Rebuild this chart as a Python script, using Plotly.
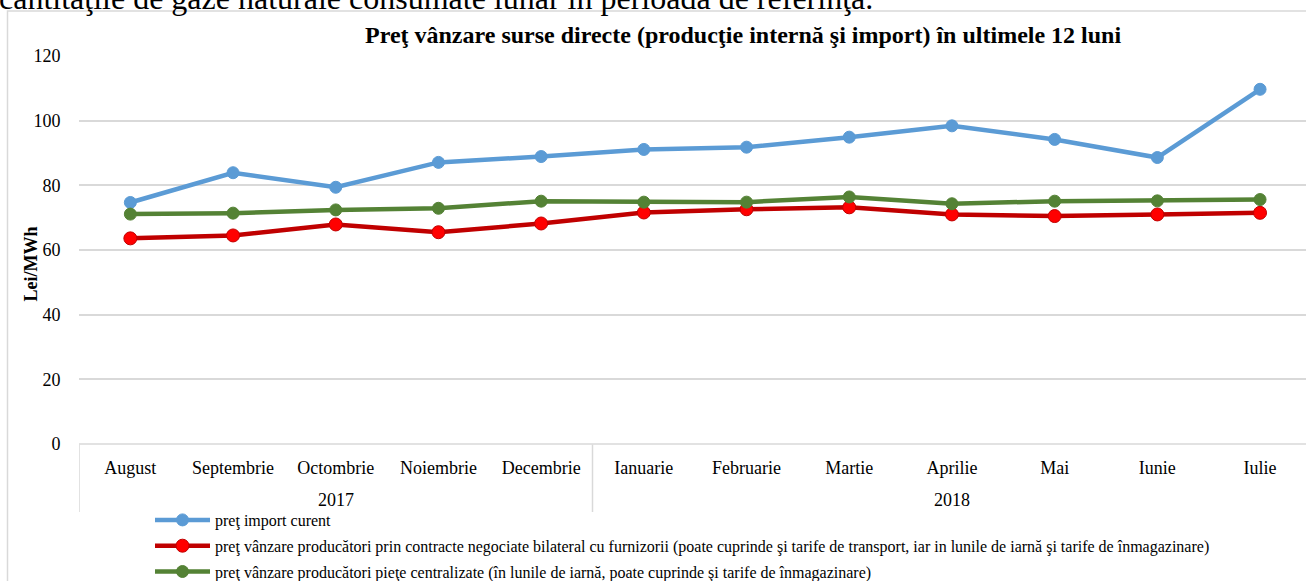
import plotly.graph_objects as go

# ---------------- data ----------------
months = ["August", "Septembrie", "Octombrie", "Noiembrie", "Decembrie",
          "Ianuarie", "Februarie", "Martie", "Aprilie", "Mai", "Iunie", "Iulie"]
years = ["2017"] * 5 + ["2018"] * 7

pret_import = [74.7, 83.9, 79.4, 87.1, 88.9, 91.1, 91.8, 94.9, 98.4, 94.2, 88.6, 109.7]
pret_bilateral = [63.6, 64.5, 67.9, 65.5, 68.2, 71.6, 72.6, 73.2, 71.0, 70.5, 71.0, 71.5]
pret_centralizate = [71.1, 71.4, 72.4, 72.9, 75.1, 74.8, 74.8, 76.4, 74.3, 75.1, 75.2, 75.6]

series_names = [
    "preţ import curent",
    "preţ vânzare producători prin contracte negociate bilateral cu furnizorii (poate cuprinde şi tarife de transport, iar in lunile de iarnă şi tarife de înmagazinare)",
    "preţ vânzare producători pieţe centralizate (în lunile de iarnă, poate cuprinde şi tarife de înmagazinare)",
]
y_ticks = [0, 20, 40, 60, 80, 100, 120]

title_text = "Preţ vânzare surse directe (producţie internă şi import) în ultimele 12 luni"
y_title = "Lei/MWh"
page_text = "cantităţile de gaze naturale consumate lunar în perioada de referinţă."

# ---------------- styling ----------------
FONT = "Liberation Serif, Times New Roman, serif"
W, H = 1306, 581
ML, MR, MT, MB = 79, 0, 56, 137
PW = W - ML - MR
PH = H - MT - MB
GRID = "#D9D9D9"


def px_x(p):
    return (p - ML) / PW


def px_y(p):
    return 1 - (p - MT) / PH


fig = go.Figure()
styles = [
    dict(line=dict(color="#5B9BD5", width=4.5),
         marker=dict(color="#5B9BD5", size=12, line=dict(color="#5B9BD5", width=1))),
    dict(line=dict(color="#C00000", width=4.5),
         marker=dict(color="#FF0000", size=13, line=dict(color="#C00000", width=1))),
    dict(line=dict(color="#548235", width=4.5),
         marker=dict(color="#548235", size=12, line=dict(color="#548235", width=1))),
]
for i, (name, vals) in enumerate(zip(series_names,
                                     [pret_import, pret_bilateral, pret_centralizate])):
    fig.add_trace(go.Scatter(
        x=months, y=vals, name=name, mode="lines+markers",
        legendgroup=f"g{i}", cliponaxis=False, **styles[i]))

# year group labels and dividers, derived from the years list
groups = []
for idx, yr in enumerate(years):
    if not groups or groups[-1][0] != yr:
        groups.append([yr, idx, idx])
    else:
        groups[-1][2] = idx

annotations = []
shapes = []
boundaries = set()
for yr, i0, i1 in groups:
    annotations.append(dict(
        text=yr, xref="x", yref="paper", x=(i0 + i1) / 2, y=px_y(500),
        xanchor="center", yanchor="middle", showarrow=False,
        font=dict(family=FONT, size=18, color="#000000")))
    boundaries.add(i0 - 0.5)
    boundaries.add(i1 + 0.5)
for b in sorted(boundaries):
    shapes.append(dict(type="line", xref="x", yref="paper", x0=b, x1=b,
                       y0=px_y(444.5), y1=px_y(512),
                       line=dict(color=GRID, width=1.5), layer="below"))

annotations += [
    dict(text=f"<b>{title_text}</b>", xref="paper", yref="paper",
         x=px_x(742.5), y=px_y(34.6), xanchor="center", yanchor="middle",
         showarrow=False, font=dict(family=FONT, size=24, color="#000000")),
    dict(text=f"<b>{y_title}</b>", xref="paper", yref="paper",
         x=px_x(30.5), y=px_y(264), xanchor="center", yanchor="middle",
         textangle=-90, showarrow=False,
         font=dict(family=FONT, size=18, color="#000000")),
    dict(text=page_text, xref="paper", yref="paper",
         x=px_x(-3), y=px_y(-22), xanchor="left", yanchor="top",
         showarrow=False, font=dict(family=FONT, size=32, color="#000000")),
]
shapes += [
    dict(type="rect", xref="paper", yref="paper",
         x0=px_x(7.5), x1=px_x(1400), y0=px_y(700), y1=px_y(11),
         line=dict(color=GRID, width=1.5), fillcolor="rgba(0,0,0,0)",
         layer="below"),
    dict(type="line", xref="paper", yref="paper",
         x0=0, x1=1, y0=0, y1=0,
         line=dict(color=GRID, width=1.5), layer="below"),
]

fig.update_layout(
    width=W, height=H,
    margin=dict(l=ML, r=MR, t=MT, b=MB, pad=0, autoexpand=False),
    paper_bgcolor="white", plot_bgcolor="white",
    font=dict(family=FONT, color="#000000", size=18),
    showlegend=True,
    legend=dict(
        xref="container", yref="container",
        x=150 / W, y=1 - 503 / H, xanchor="left", yanchor="top",
        font=dict(family=FONT, size=16, color="#000000"),
        tracegroupgap=2, itemwidth=55, bgcolor="rgba(0,0,0,0)",
        traceorder="grouped",
    ),
    xaxis=dict(
        type="category",
        range=[-0.5, -0.5 + PW / 102.7],
        showgrid=False, zeroline=False, showline=False,
        ticks="outside", ticklen=7, tickcolor="rgba(0,0,0,0)",
        tickfont=dict(family=FONT, size=18, color="#000000"),
    ),
    yaxis=dict(
        range=[0, 120], tickvals=y_ticks,
        showgrid=True, gridcolor=GRID, gridwidth=1.5,
        zeroline=False, showline=False,
        ticks="outside", ticklen=14, tickcolor="rgba(0,0,0,0)",
        tickfont=dict(family=FONT, size=18, color="#000000"),
    ),
    annotations=annotations,
    shapes=shapes,
)

fig.write_html("out.html", config={"displayModeBar": False},
               post_script="document.body.style.margin='0px';")
